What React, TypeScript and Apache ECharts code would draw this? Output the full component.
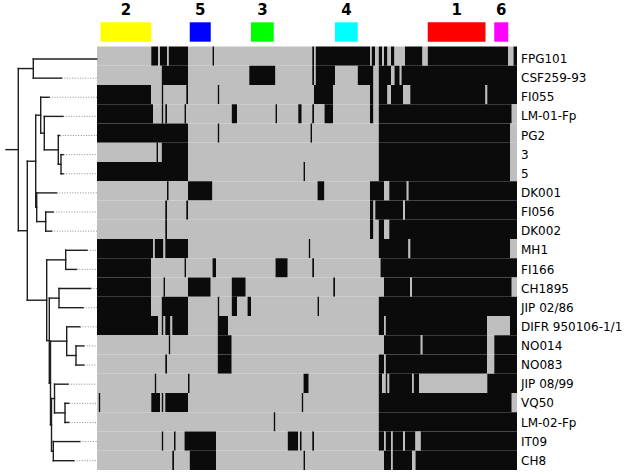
import React, { useEffect, useRef } from "react";
import * as echarts from "echarts";

const sampleNames = ["FPG101", "CSF259-93", "FI055", "LM-01-Fp", "PG2", "3", "5", "DK001", "FI056", "DK002", "MH1", "FI166", "CH1895", "JIP 02/86", "DIFR 950106-1/1", "NO014", "NO083", "JIP 08/99", "VQ50", "LM-02-Fp", "IT09", "CH8"];

const markerCount = 240;

// black (present) runs per sample, [start, end) in marker columns
const presenceRuns: number[][][] = [
  [[31, 35], [36, 40], [41, 52], [66, 67], [123, 124], [125, 156], [157, 159], [161, 163], [164, 166], [168, 170], [176, 186], [189, 235], [238, 240]],
  [[37, 52], [87, 102], [123, 124], [125, 136], [149, 158], [161, 168], [170, 173], [174, 240]],
  [[0, 31], [37, 38], [51, 52], [69, 70], [124, 135], [156, 158], [161, 166], [168, 175], [179, 222], [223, 240]],
  [[0, 32], [37, 38], [39, 40], [50, 51], [77, 80], [102, 103], [115, 117], [123, 124], [130, 135], [156, 158], [161, 237]],
  [[0, 52], [69, 70], [122, 123], [161, 236]],
  [[34, 35], [37, 52], [161, 236]],
  [[0, 52], [118, 119], [161, 236]],
  [[40, 41], [52, 66], [126, 130], [156, 164], [167, 177], [178, 240]],
  [[39, 40], [51, 52], [156, 158], [159, 175], [176, 240]],
  [[39, 40], [156, 158], [161, 164], [167, 240]],
  [[0, 32], [33, 38], [39, 52], [121, 122], [161, 178], [179, 236]],
  [[0, 31], [50, 51], [66, 68], [102, 109], [123, 124], [162, 240]],
  [[0, 31], [38, 39], [52, 65], [77, 85], [135, 136], [164, 179], [180, 237]],
  [[0, 31], [37, 52], [69, 70], [77, 80], [86, 88], [126, 127], [161, 240]],
  [[0, 35], [37, 38], [39, 42], [43, 52], [69, 75], [161, 164], [165, 223], [236, 240]],
  [[41, 42], [69, 77], [164, 185], [186, 223], [227, 240]],
  [[39, 40], [69, 77], [161, 164], [165, 223], [227, 240]],
  [[33, 34], [52, 53], [118, 121], [161, 163], [165, 166], [167, 180], [181, 184], [223, 240]],
  [[1, 2], [31, 36], [37, 38], [39, 52], [117, 118], [161, 237]],
  [[101, 102], [161, 240]],
  [[37, 38], [44, 45], [50, 68], [109, 115], [116, 117], [123, 124], [161, 164], [165, 168], [169, 175], [176, 182], [185, 240]],
  [[43, 44], [53, 68], [118, 119], [164, 168], [169, 180], [182, 240]],
];

const groupLabels = ["2", "5", "3", "4", "1", "6"];
const groupStart = [2, 53, 88, 136, 189, 227];
const groupEnd = [31, 65, 101, 149, 222, 235];
const groupColors = ["#FFFF00", "#0000FF", "#00FF00", "#00FFFF", "#FF0000", "#FF00FF"];

// dendrogram: leaf tip depths and merges (children ids: leaves 0..21, merges 22+)
const treeDepthMax = 97;
const leafTips = [96.7, 61.7, 49.3, 63.3, 60, 63.5, 63.5, 56.7, 53.3, 51.7, 87.3, 76.7, 90.7, 83.3, 80, 84, 84, 68.3, 69, 69, 80, 74];
const mergeLeft = [5, 4, 3, 2, 8, 7, 25, 10, 12, 15, 14, 18, 17, 20, 34, 32, 30, 29, 28, 0, 41];
const mergeRight = [6, 22, 23, 24, 9, 26, 27, 11, 13, 16, 31, 19, 33, 21, 35, 36, 37, 38, 39, 1, 40];
const mergeDepth = [61, 58.3, 44.3, 40.7, 45.7, 36.7, 35.7, 65.7, 59, 76, 66.7, 65, 54.5, 53.3, 51.5, 50.5, 49.3, 46.7, 27.3, 33.3, 18.3];
const rootStubStart = 6;

function buildCells() {
  const cells: number[][] = [];
  presenceRuns.forEach((runs, r) => {
    let pos = 0;
    runs.forEach(([s, e]) => {
      if (s > pos) cells.push([pos, s, r, 0]);
      cells.push([s, e, r, 1]);
      pos = e;
    });
    if (pos < markerCount) cells.push([pos, markerCount, r, 0]);
  });
  return cells;
}

function buildTreeEdges() {
  const n = leafTips.length;
  const ys: number[] = leafTips.map((_, i) => i);
  const xs: number[] = leafTips.slice();
  const edges: number[][] = [];
  for (let k = 0; k < mergeDepth.length; k++) {
    const a = mergeLeft[k];
    const b = mergeRight[k];
    const x = mergeDepth[k];
    const y = (ys[a] + ys[b]) / 2;
    ys[n + k] = y;
    xs[n + k] = x;
    edges.push([x, ys[a], x, ys[b], 0]);
    edges.push([x, ys[a], xs[a], ys[a], 0]);
    edges.push([x, ys[b], xs[b], ys[b], 0]);
  }
  const root = n + mergeDepth.length - 1;
  edges.push([rootStubStart, ys[root], xs[root], ys[root], 0]);
  for (let i = 0; i < n; i++) {
    if (leafTips[i] < treeDepthMax - 1) edges.push([leafTips[i], i, treeDepthMax, i, 1]);
  }
  return edges;
}

export default function App() {
  const ref = useRef<HTMLDivElement>(null);
  useEffect(() => {
    if (!ref.current) return;
    const chart = echarts.init(ref.current, undefined, { renderer: "svg" });
    const cells = buildCells();
    const edges = buildTreeEdges();
    const groups = groupLabels.map((l, i) => [groupStart[i], groupEnd[i], i]);
    chart.setOption({
      animation: false,
      backgroundColor: "#ffffff",
      grid: [
        { left: 97, top: 46.5, width: 420, height: 423.5 },
        { left: 97, top: 22.3, width: 420, height: 19.4 },
        { left: 0, top: 59, width: treeDepthMax, height: 401.7 },
        { left: 97, top: 49.5, width: 420, height: 420.9 },
      ],
      xAxis: [
        { gridIndex: 0, type: "value", min: 0, max: markerCount, show: false },
        { gridIndex: 1, type: "value", min: 0, max: markerCount, show: false },
        { gridIndex: 2, type: "value", min: 0, max: treeDepthMax, show: false },
        { gridIndex: 3, type: "value", min: 0, max: markerCount, show: false },
      ],
      yAxis: [
        { gridIndex: 0, type: "category", data: sampleNames, inverse: true, show: false },
        { gridIndex: 1, type: "value", min: 0, max: 1, show: false },
        { gridIndex: 2, type: "value", min: 0, max: sampleNames.length - 1, inverse: true, show: false },
        {
          gridIndex: 3, type: "category", data: sampleNames, inverse: true, position: "right",
          axisLine: { show: false }, axisTick: { show: false }, splitLine: { show: false },
          axisLabel: { color: "#000", fontSize: 12, fontFamily: "DejaVu Sans", margin: 4 },
        },
      ],
      series: [
        {
          type: "custom", xAxisIndex: 0, yAxisIndex: 0, data: cells, encode: { x: [0, 1], y: 2 },
          renderItem: (params: any, api: any) => {
            const s = api.value(0), e = api.value(1), r = api.value(2), v = api.value(3);
            const p0 = api.coord([s, r]);
            const p1 = api.coord([e, r]);
            const h = api.size([0, 1])[1];
            return {
              type: "rect",
              shape: { x: p0[0], y: p0[1] - h / 2, width: p1[0] - p0[0], height: h },
              style: { fill: v ? "#0b0b0b" : "#bfbfbf" },
            };
          },
        },
        {
          type: "custom", xAxisIndex: 1, yAxisIndex: 1, data: groups, encode: { x: [0, 1] },
          renderItem: (params: any, api: any) => {
            const s = api.value(0), e = api.value(1), i = api.value(2);
            const p0 = api.coord([s, 1]);
            const p1 = api.coord([e, 0]);
            return {
              type: "group",
              children: [
                { type: "rect", shape: { x: p0[0], y: p0[1], width: p1[0] - p0[0], height: p1[1] - p0[1] }, style: { fill: groupColors[i] } },
                {
                  type: "text",
                  style: {
                    text: groupLabels[i], x: (p0[0] + p1[0]) / 2, y: p0[1] - 12,
                    textAlign: "center", textVerticalAlign: "middle",
                    font: "bold 15px 'DejaVu Sans'", fill: "#000",
                  },
                },
              ],
            };
          },
        },
        {
          type: "custom", xAxisIndex: 2, yAxisIndex: 2, data: edges, encode: { x: [0, 2], y: [1, 3] },
          renderItem: (params: any, api: any) => {
            const a = api.coord([api.value(0), api.value(1)]);
            const b = api.coord([api.value(2), api.value(3)]);
            const dotted = api.value(4) === 1;
            return {
              type: "line",
              shape: { x1: a[0], y1: a[1], x2: b[0], y2: b[1] },
              style: dotted
                ? { stroke: "#8c8c8c", lineWidth: 1, lineDash: [1, 1.6] }
                : { stroke: "#1e1e1e", lineWidth: 1.4, lineCap: "square" },
            };
          },
        },
      ],
    });
    return () => chart.dispose();
  }, []);
  return <div ref={ref} style={{ position: "absolute", left: 0, top: 0, width: 638, height: 474 }} />;
}
